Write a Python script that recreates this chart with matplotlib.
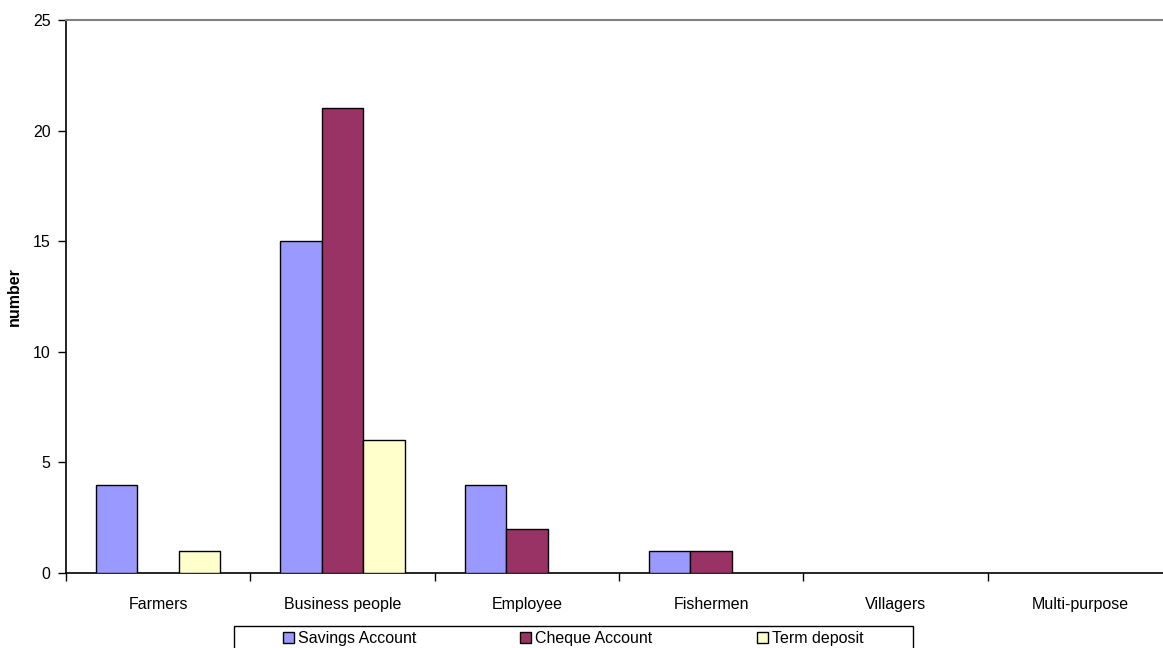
import matplotlib
matplotlib.use("Agg")
import matplotlib.pyplot as plt
from matplotlib.patches import Rectangle
import numpy as np

plt.rcParams['font.family'] = ['Liberation Sans', 'DejaVu Sans']

categories = ["Farmers", "Business people", "Employee", "Fishermen", "Villagers", "Multi-purpose"]
savings = [4, 15, 4, 1, 0, 0]
cheque = [0, 21, 2, 1, 0, 0]
term = [1, 6, 0, 0, 0, 0]
series_names = ["Savings Account", "Cheque Account", "Term deposit"]
series_colors = ["#9999FF", "#993366", "#FFFFCC"]
y_ticks = [0, 5, 10, 15, 20, 25]

W, H = 1163, 648
fig = plt.figure(figsize=(W / 100, H / 100), dpi=100)
ax = fig.add_axes([66 / W, 75 / H, (1172 - 66) / W, (573 - 20) / H])

x = np.arange(len(categories))
w = 0.225
handles = []
for k, (vals, name, col) in enumerate(zip([savings, cheque, term], series_names, series_colors)):
    vals_arr = np.array(vals, dtype=float)
    mask = vals_arr > 0
    b = ax.bar(x[mask] + (k - 1) * w, vals_arr[mask], width=w, color=col,
               edgecolor="black", linewidth=1.0, label=name, zorder=3)
    handles.append(b)

ax.set_xlim(-0.5, len(categories) - 0.5)
ax.set_ylim(0, 25)
ax.set_yticks(y_ticks)
ax.tick_params(axis="y", direction="out", length=6, width=1, pad=5, labelsize=11.5)

# category boundaries carry the tick marks, names sit in the middle
ax.set_xticks(np.arange(len(categories) + 1) - 0.5)
ax.set_xticklabels([])
ax.set_xticks(x, minor=True)
ax.set_xticklabels(categories, minor=True)
ax.tick_params(axis="x", which="major", direction="out", length=6, width=1)
ax.tick_params(axis="x", which="minor", length=0, pad=17, labelsize=11.5)

ax.spines["top"].set_color("#808080")
ax.spines["top"].set_linewidth(1.5)
ax.spines["right"].set_visible(False)
ax.spines["left"].set_linewidth(1.2)
ax.spines["bottom"].set_linewidth(1.2)

ax.set_ylabel("number", fontsize=11.5, fontweight="bold")
ax.yaxis.set_label_coords((22 - 66) / (1172 - 66), 0.5)

# legend frame and its three entries
fig.patches.append(Rectangle((234 / W, -5 / H), (913 - 234) / W, (648 - 626 + 5) / H,
                             transform=fig.transFigure, facecolor="white",
                             edgecolor="black", linewidth=1.0, figure=fig))
for h, name, xs in zip(handles, series_names, [283, 520, 757]):
    fig.legend([h], [name], loc="center left", bbox_to_anchor=(xs / W, 9 / H),
               frameon=False, borderpad=0, borderaxespad=0, handlelength=0.69,
               handleheight=0.69, handletextpad=0.25, fontsize=11.5)

fig.savefig("out.png", dpi=100)
